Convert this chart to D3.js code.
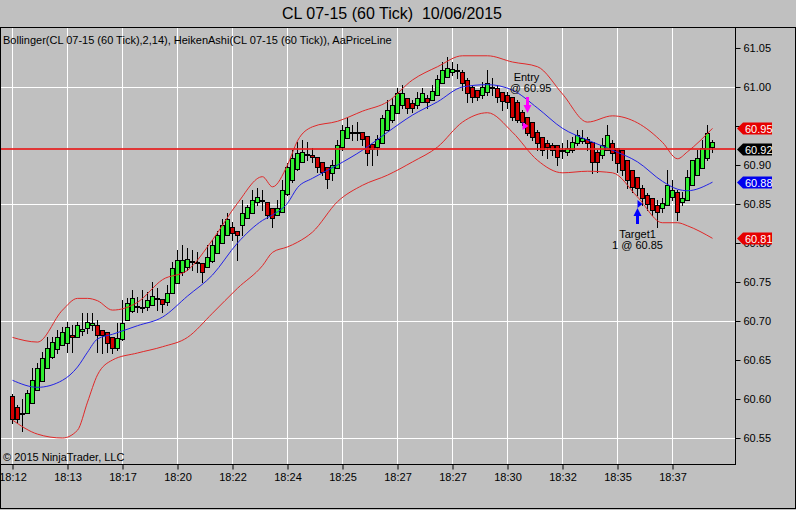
<!DOCTYPE html>
<html>
<head>
<meta charset="utf-8">
<script src="https://cdn.jsdelivr.net/npm/d3@7"></script>
<style>
body { margin: 0; background: #c0c0c0; }
svg { display: block; font-family: "Liberation Sans", Arial, sans-serif; }
</style>
</head>
<body>
<script>
////// data

const title = "CL 07-15 (60 Tick)  10/06/2015";
const indicatorText = "Bollinger(CL 07-15 (60 Tick),2,14), HeikenAshi(CL 07-15 (60 Tick)), AaPriceLine";
const copyright = "\u00a9 2015 NinjaTrader, LLC";

// heiken ashi bars, one per tick bar
const haOpen = [60.604,60.590,60.582,60.582,60.595,60.612,60.624,60.640,60.654,60.663,
  60.669,60.672,60.682,60.679,60.687,60.691,60.695,60.695,60.688,60.686,
  60.679,60.665,60.676,60.701,60.712,60.719,60.718,60.718,60.721,60.728,
  60.728,60.724,60.736,60.749,60.762,60.769,60.777,60.776,60.774,60.769,
  60.776,60.787,60.800,60.810,60.821,60.815,60.823,60.832,60.838,60.853,
  60.855,60.853,60.845,60.836,60.840,60.862,60.881,60.894,60.904,60.913,
  60.913,60.910,60.904,60.897,60.890,60.896,60.923,60.935,60.942,60.942,
  60.942,60.937,60.927,60.923,60.928,60.945,60.958,60.967,60.977,60.986,
  60.979,60.977,60.981,60.986,60.983,60.990,61.005,61.013,61.019,61.021,
  61.019,61.009,61.000,60.996,60.990,60.994,61.000,60.999,60.994,60.990,
  60.987,60.981,60.968,60.962,60.955,60.942,60.936,60.928,60.926,60.926,
  60.919,60.917,60.919,60.928,60.931,60.933,60.929,60.917,60.913,60.919,
  60.928,60.922,60.919,60.906,60.894,60.885,60.871,60.862,60.858,60.849,
  60.845,60.849,60.859,60.865,60.853,60.855,60.874,60.887,60.896,60.909,
  60.923];
const haHigh = [60.606,60.592,60.600,60.612,60.640,60.646,60.660,60.679,60.679,60.688,
  60.692,60.699,60.695,60.699,60.710,60.710,60.710,60.701,60.688,60.686,
  60.679,60.697,60.727,60.729,60.740,60.731,60.740,60.737,60.750,60.742,
  60.728,60.746,60.776,60.791,60.797,60.794,60.791,60.788,60.774,60.797,
  60.804,60.815,60.831,60.838,60.827,60.815,60.855,60.849,60.868,60.871,
  60.868,60.853,60.845,60.855,60.881,60.903,60.919,60.929,60.932,60.929,
  60.922,60.910,60.904,60.897,60.906,60.932,60.951,60.962,60.951,60.955,
  60.942,60.937,60.927,60.938,60.964,60.983,60.986,60.999,61.003,60.986,
  60.983,60.994,60.999,60.990,61.003,61.015,61.032,61.038,61.032,61.029,
  61.022,61.012,61.003,60.996,61.006,61.022,61.012,61.003,60.994,60.994,
  60.987,60.983,60.971,60.962,60.955,60.945,60.936,60.932,60.928,60.926,
  60.928,60.932,60.936,60.945,60.945,60.936,60.929,60.919,60.935,60.951,
  60.932,60.922,60.919,60.906,60.894,60.885,60.874,60.864,60.858,60.855,
  60.858,60.894,60.881,60.868,60.865,60.894,60.906,60.919,60.932,60.951,
  60.932];
const haLow = [60.569,60.569,60.559,60.582,60.595,60.612,60.624,60.640,60.653,60.659,
  60.669,60.660,60.660,60.679,60.682,60.685,60.688,60.660,60.659,60.660,
  60.659,60.663,60.676,60.701,60.712,60.712,60.712,60.714,60.721,60.714,
  60.712,60.721,60.736,60.749,60.759,60.765,60.765,60.763,60.750,60.769,
  60.776,60.787,60.800,60.810,60.804,60.778,60.810,60.832,60.838,60.849,
  60.842,60.832,60.821,60.836,60.840,60.862,60.878,60.894,60.904,60.906,
  60.904,60.891,60.887,60.871,60.881,60.896,60.919,60.935,60.932,60.932,
  60.926,60.900,60.900,60.913,60.928,60.945,60.955,60.967,60.973,60.967,
  60.968,60.973,60.981,60.973,60.983,60.990,61.005,61.013,61.015,61.012,
  60.996,60.981,60.981,60.983,60.986,60.990,60.990,60.981,60.971,60.973,
  60.958,60.955,60.951,60.938,60.932,60.919,60.913,60.909,60.913,60.900,
  60.909,60.913,60.917,60.926,60.928,60.919,60.890,60.891,60.909,60.919,
  60.906,60.891,60.887,60.871,60.865,60.862,60.849,60.842,60.836,60.821,
  60.840,60.849,60.855,60.829,60.849,60.855,60.874,60.887,60.896,60.906,
  60.917];
const haClose = [60.574,60.574,60.582,60.608,60.624,60.640,60.653,60.665,60.673,60.679,
  60.686,60.692,60.679,60.695,60.690,60.699,60.697,60.682,60.682,60.672,
  60.665,60.678,60.697,60.723,60.729,60.718,60.718,60.727,60.732,60.729,
  60.721,60.736,60.768,60.778,60.778,60.779,60.777,60.776,60.762,60.782,
  60.797,60.810,60.823,60.831,60.813,60.810,60.838,60.846,60.855,60.859,
  60.855,60.836,60.832,60.845,60.868,60.897,60.909,60.915,60.917,60.914,
  60.910,60.897,60.891,60.881,60.900,60.926,60.945,60.949,60.942,60.941,
  60.933,60.915,60.921,60.933,60.960,60.971,60.977,60.992,60.992,60.973,
  60.973,60.986,60.992,60.981,60.995,61.010,61.022,61.024,61.023,61.022,
  61.005,60.992,60.987,60.987,61.000,61.005,61.000,60.987,60.983,60.981,
  60.962,60.958,60.955,60.942,60.936,60.928,60.919,60.923,60.919,60.910,
  60.919,60.922,60.929,60.938,60.935,60.928,60.904,60.904,60.926,60.938,
  60.915,60.903,60.894,60.881,60.872,60.871,60.858,60.851,60.842,60.840,
  60.851,60.874,60.868,60.840,60.858,60.885,60.906,60.909,60.922,60.941,
  60.929];

// bollinger(2,14), read at these bar indices
const bandIdx = [0,5,10,13,15,17,20,25,30,35,40,45,50,52,55,57,60,65,70,75,80,85,90,95,100,105,110,115,120,125,130,133,135,140];
const bandUpper = [60.679,60.673,60.714,60.729,60.729,60.726,60.714,60.724,60.753,60.765,
  60.804,60.851,60.885,60.872,60.900,60.931,60.949,60.956,60.969,60.981,
  61.009,61.026,61.040,61.040,61.032,61.026,60.991,60.955,60.963,60.954,
  60.929,60.908,60.917,60.947];
const bandMiddle = [60.624,60.615,60.624,60.641,60.660,60.677,60.683,60.694,60.705,60.732,
  60.759,60.800,60.829,60.836,60.851,60.871,60.883,60.900,60.919,60.942,
  60.964,60.981,61.000,61.003,60.996,60.973,60.947,60.932,60.919,60.904,
  60.879,60.869,60.867,60.878];
const bandLower = [60.573,60.555,60.550,60.560,60.596,60.631,60.650,60.659,60.667,60.679,
  60.710,60.742,60.771,60.788,60.795,60.801,60.814,60.853,60.874,60.887,
  60.904,60.923,60.955,60.967,60.942,60.906,60.890,60.892,60.890,60.859,
  60.826,60.826,60.822,60.806];

const priceLine = 60.92;

// time labels along the bottom, every 11 bars
const timeIdx = [0,11,22,33,44,55,66,77,88,99,110,121,132];
const timeLabels = ["18:12","18:13","18:17","18:20","18:22","18:24","18:25","18:27","18:27","18:30","18:32","18:35","18:37"];

const priceTicks = [60.55,60.60,60.65,60.70,60.75,60.80,60.85,60.90,60.95,61.00,61.05];
const gridPrices = [60.55,60.70,60.85,61.00];

// executions
const execBar = [103, 125];
const execPrice = [60.95, 60.85];
const execLine1 = ["Entry", "Target1"];
const execLine2 = ["@ 60.95", "1 @ 60.85"];

//////

const W = 796, H = 510;
const plotRight = 735, plotTop = 27, plotBottom = 464;

const x = d3.scaleLinear().domain([0, 140]).range([12.5, 712.5]);
const y = d3.scaleLinear().domain([60.5167, 61.0769]).range([plotBottom, plotTop]);
const fmt = d3.format(".2f");

const svg = d3.select("body").append("svg")
    .attr("width", W)
    .attr("height", H);

svg.append("rect").attr("width", W).attr("height", H).attr("fill", "#c0c0c0");

svg.append("text")
    .attr("x", 392).attr("y", 19)
    .attr("text-anchor", "middle")
    .attr("font-size", 16)
    .style("white-space", "pre")
    .text(title);

// gridlines
const grid = svg.append("g").attr("stroke", "#ffffff").attr("stroke-width", 1);
grid.selectAll("line.v").data(timeIdx).join("line")
    .attr("class", "v")
    .attr("x1", d => x(d)).attr("x2", d => x(d))
    .attr("y1", plotTop).attr("y2", plotBottom);
grid.selectAll("line.h").data(gridPrices).join("line")
    .attr("class", "h")
    .attr("x1", 0).attr("x2", plotRight)
    .attr("y1", d => Math.round(y(d)) + 0.5).attr("y2", d => Math.round(y(d)) + 0.5);

// candles
const bars = haOpen.map((o, i) => ({i: i, o: o, h: haHigh[i], l: haLow[i], c: haClose[i]}));
const candles = svg.append("g");
candles.selectAll("line").data(bars).join("line")
    .attr("x1", d => x(d.i)).attr("x2", d => x(d.i))
    .attr("y1", d => Math.round(y(d.h))).attr("y2", d => Math.round(y(d.l)) + 1)
    .attr("stroke", "#000");
candles.selectAll("rect").data(bars).join("rect")
    .attr("x", d => x(d.i) - 2)
    .attr("y", d => Math.round(y(Math.max(d.o, d.c))) + 0.5)
    .attr("width", 4)
    .attr("height", d => Math.max(1, Math.round(Math.abs(y(d.o) - y(d.c)))))
    .attr("fill", d => d.c >= d.o ? "#30ee30" : "#d40000")
    .attr("stroke", "#000")
    .attr("stroke-width", 1);

// bollinger bands
const bandLine = d3.line()
    .x(d => x(d[0]))
    .y(d => y(d[1]))
    .curve(d3.curveMonotoneX);
const bands = [
    {vals: bandUpper, color: "#e02828"},
    {vals: bandMiddle, color: "#2222e6"},
    {vals: bandLower, color: "#e02828"}
];
svg.append("g").selectAll("path").data(bands).join("path")
    .attr("d", b => bandLine(bandIdx.map((k, j) => [k, b.vals[j]])))
    .attr("fill", "none")
    .attr("stroke", b => b.color)
    .attr("stroke-width", 1);

// price line (AaPriceLine)
svg.append("rect")
    .attr("x", 0).attr("y", Math.round(y(priceLine)) - 1)
    .attr("width", plotRight).attr("height", 2)
    .attr("fill", "rgb(230,30,30)")
    .attr("fill-opacity", 0.85);

// executions
const ex = svg.append("g");
execBar.forEach((b, k) => {
    const cx = x(b);
    const py = y(execPrice[k]);
    if (k === 0) {
        const col = "#ff00ff";
        const tip = py - 13;
        ex.append("path")
            .attr("d", `M${cx - 1.5},${tip - 16}h3v8h2.5l-4,8l-4,-8h2.5z`)
            .attr("fill", col);
        ex.append("path")
            .attr("d", `M${cx - 5},${py - 4}l6,4l-6,4z`)
            .attr("fill", col);
        ex.append("text").attr("x", cx - 1).attr("y", tip - 32)
            .attr("text-anchor", "middle").attr("font-size", 11).text(execLine1[k]);
        ex.append("text").attr("x", cx + 3).attr("y", tip - 21)
            .attr("text-anchor", "middle").attr("font-size", 11).text(execLine2[k]);
    } else {
        const col = "#0000ff";
        const tip = py + 4;
        ex.append("path")
            .attr("d", `M${cx - 1.5},${tip + 16}h3v-8h2.5l-4,-8l-4,8h2.5z`)
            .attr("fill", col);
        ex.append("path")
            .attr("d", `M${cx},${py - 4}l5,4l-5,4z`)
            .attr("fill", col);
        ex.append("text").attr("x", cx).attr("y", tip + 30)
            .attr("text-anchor", "middle").attr("font-size", 11).text(execLine1[k]);
        ex.append("text").attr("x", cx).attr("y", tip + 41)
            .attr("text-anchor", "middle").attr("font-size", 11).text(execLine2[k]);
    }
});

// value markers on the price axis
const markers = [
    {v: bandUpper[bandUpper.length - 1], color: "#e60000"},
    {v: priceLine, color: "#000000"},
    {v: bandMiddle[bandMiddle.length - 1], color: "#0000ee"},
    {v: bandLower[bandLower.length - 1], color: "#e60000"}
];

// axes
const yAxis = d3.axisRight(y)
    .tickValues(priceTicks)
    .tickFormat(fmt)
    .tickSize(5)
    .tickSizeOuter(0)
    .tickPadding(3);
const ya = svg.append("g")
    .attr("transform", `translate(${plotRight + 0.5},0)`)
    .call(yAxis);
ya.selectAll("text").attr("font-size", 11).attr("fill", "#000").attr("font-family", null);
ya.select(".domain").remove();
// labels fully covered by a value marker are not shown
ya.selectAll(".tick text")
    .filter(d => markers.some(m => Math.abs(y(m.v) - y(d)) < 3))
    .remove();

const xAxis = d3.axisBottom(x)
    .tickValues(timeIdx)
    .tickFormat((d, k) => timeLabels[k])
    .tickSize(5)
    .tickPadding(4);
const xa = svg.append("g")
    .attr("transform", `translate(0,${plotBottom + 0.5})`)
    .call(xAxis);
xa.selectAll("text").attr("font-size", 11).attr("fill", "#000").attr("font-family", null);
xa.select(".domain").remove();

// frame
svg.append("path")
    .attr("d", `M0,${plotTop + 0.5}H${W}M${plotRight + 0.5},${plotTop}V${plotBottom + 1}M0,${plotBottom + 0.5}H${plotRight + 1}`)
    .attr("stroke", "#000").attr("fill", "none");
svg.append("rect")
    .attr("x", 0.5).attr("y", plotTop + 0.5)
    .attr("width", W - 1).attr("height", H - plotTop - 2)
    .attr("fill", "none").attr("stroke", "#000");

const mk = svg.append("g").selectAll("g").data(markers).join("g")
    .attr("transform", d => `translate(0,${Math.round(y(d.v)) + 0.5})`);
mk.append("path")
    .attr("d", "M737,0L743,-6H772V6H743Z")
    .attr("fill", d => d.color);
mk.append("text")
    .attr("x", 745).attr("y", 4)
    .attr("font-size", 11)
    .attr("fill", "#fff")
    .text(d => fmt(d.v));

svg.append("text")
    .attr("x", 3).attr("y", 44)
    .attr("font-size", 11)
    .text(indicatorText);
svg.append("text")
    .attr("x", 3).attr("y", 461)
    .attr("font-size", 11)
    .text(copyright);
</script>
</body>
</html>
